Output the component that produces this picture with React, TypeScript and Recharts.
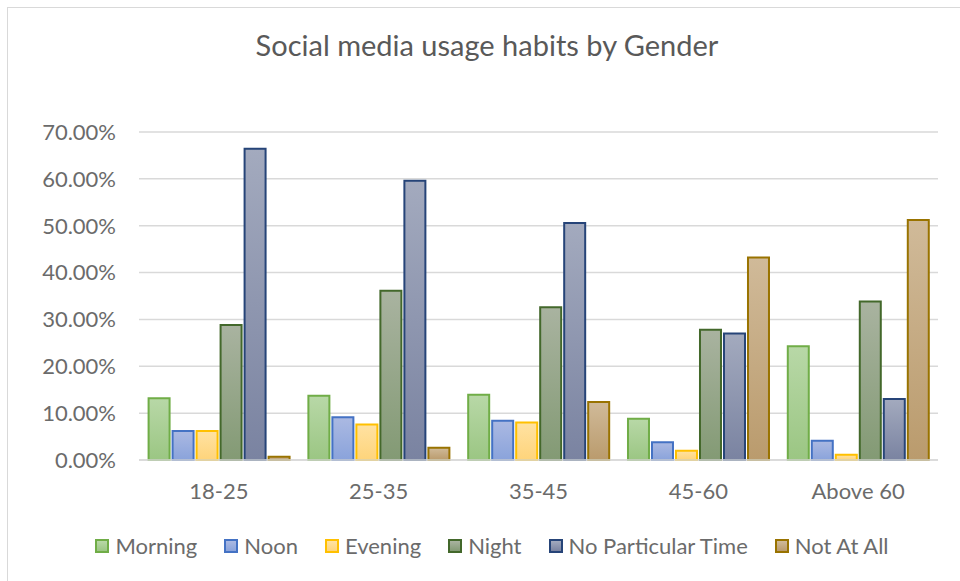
import { Bar, BarChart, CartesianGrid, XAxis, YAxis } from "recharts";

const ageGroups = ["18-25", "25-35", "35-45", "45-60", "Above 60"];

const morning = [13.2, 13.7, 13.9, 8.8, 24.3];
const noon = [6.2, 9.1, 8.4, 3.8, 4.1];
const evening = [6.2, 7.6, 8.0, 2.0, 1.1];
const night = [28.8, 36.1, 32.6, 27.8, 33.8];
const noParticularTime = [66.4, 59.6, 50.6, 27.0, 13.0];
const notAtAll = [0.7, 2.6, 12.4, 43.2, 51.2];

const yTicks = [0, 10, 20, 30, 40, 50, 60, 70];

const series = [
  { key: "Morning", values: morning, top: "#b8d8a7", bottom: "#9bc683", stroke: "#70ad47" },
  { key: "Noon", values: noon, top: "#abb9e2", bottom: "#8aa3db", stroke: "#4472c4" },
  { key: "Evening", values: evening, top: "#ffe2a2", bottom: "#fed47b", stroke: "#ffc000" },
  { key: "Night", values: night, top: "#a9b3a0", bottom: "#839a74", stroke: "#43682b" },
  { key: "No Particular Time", values: noParticularTime, top: "#a3aabe", bottom: "#7a83a1", stroke: "#264478" },
  { key: "Not At All", values: notAtAll, top: "#d0ba99", bottom: "#ba9b6d", stroke: "#997300" },
];

const rows = ageGroups.map((age, i) => {
  const row: Record<string, string | number> = { age };
  series.forEach((s) => {
    row[s.key] = s.values[i];
  });
  return row;
});

const FONT = "Lato, 'Open Sans', sans-serif";
const TEXT = "#6b6b6b";

function LegendRow() {
  return (
    <div
      style={{
        position: "absolute",
        left: 0,
        width: 984,
        top: 532,
        display: "flex",
        justifyContent: "center",
        alignItems: "center",
        gap: 27,
        fontFamily: FONT,
        fontSize: 22,
        color: TEXT,
      }}
    >
      {series.map((s) => (
        <div key={s.key} style={{ display: "flex", alignItems: "center" }}>
          <span
            style={{
              width: 10,
              height: 10,
              border: `2px solid ${s.stroke}`,
              background: `linear-gradient(${s.top}, ${s.bottom})`,
              marginRight: 6,
              display: "inline-block",
            }}
          />
          <span>{s.key}</span>
        </div>
      ))}
    </div>
  );
}

export default function App() {
  return (
    <div
      style={{
        position: "absolute",
        left: 0,
        top: 0,
        width: 960,
        height: 581,
        background: "#fff",
        overflow: "hidden",
      }}
    >
      <div
        style={{
          position: "absolute",
          left: 7,
          top: 7,
          width: 970,
          height: 600,
          border: "1px solid #d9d9d9",
        }}
      />
      <div
        style={{
          position: "absolute",
          left: 0,
          width: 974,
          top: 27,
          textAlign: "center",
          fontFamily: FONT,
          fontSize: 29,
          color: "#595959",
        }}
      >
        Social media usage habits by Gender
      </div>
      <div style={{ position: "absolute", left: 0, top: 0 }}>
        <BarChart
          width={960}
          height={581}
          data={rows}
          margin={{ top: 132, right: 22, bottom: 0, left: 0 }}
          barCategoryGap="6%"
          barGap={3}
        >
          <defs>
            {series.map((s, i) => (
              <linearGradient key={s.key} id={`grad${i}`} x1="0" y1="0" x2="0" y2="1">
                <stop offset="0%" stopColor={s.top} />
                <stop offset="100%" stopColor={s.bottom} />
              </linearGradient>
            ))}
          </defs>
          <CartesianGrid vertical={false} stroke="#d9d9d9" strokeWidth={1.5} />
          <XAxis
            dataKey="age"
            height={121}
            axisLine={{ stroke: "#d9d9d9", strokeWidth: 1.5 }}
            tickLine={false}
            tickSize={0}
            tickMargin={23}
            tick={{ fill: TEXT, fontSize: 22, fontFamily: FONT }}
          />
          <YAxis
            width={139}
            domain={[0, 70]}
            ticks={yTicks}
            axisLine={false}
            tickLine={false}
            tickSize={0}
            tickMargin={23}
            tickFormatter={(v: number) => `${v.toFixed(2)}%`}
            tick={{ fill: TEXT, fontSize: 22, fontFamily: FONT }}
          />
          {series.map((s, i) => (
            <Bar
              key={s.key}
              dataKey={s.key}
              fill={`url(#grad${i})`}
              stroke={s.stroke}
              strokeWidth={2}
              isAnimationActive={false}
            />
          ))}
        </BarChart>
      </div>
      <LegendRow />
    </div>
  );
}
